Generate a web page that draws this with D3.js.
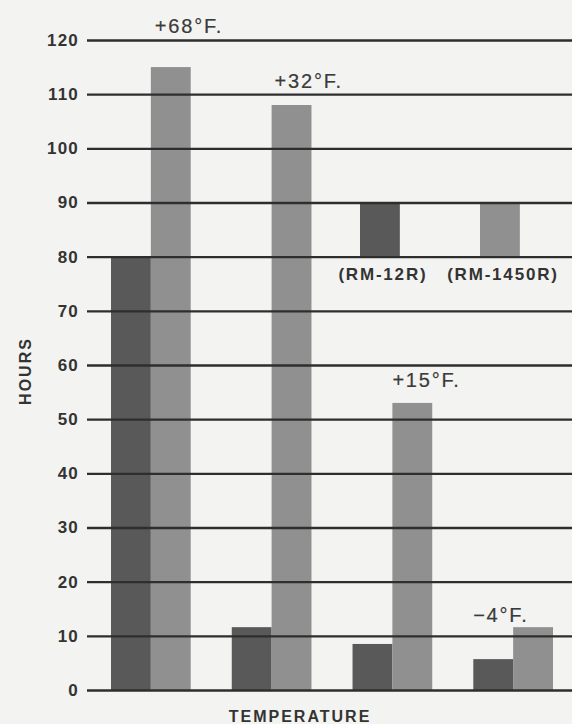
<!DOCTYPE html>
<html><head><meta charset="utf-8">
<script src="https://cdn.jsdelivr.net/npm/d3@7"></script>
<style>body{margin:0;background:#f3f3f1;overflow:hidden}</style>
</head><body>
<script>
// ---- data ----
const temperatures = ["+68°F.", "+32°F.", "+15°F.", "−4°F."];
const series = ["RM-12R", "RM-1450R"];
const rm12r = [80, 11.6, 8.5, 5.7];
const rm1450r = [115, 108, 53, 11.6];
const yTicks = [0, 10, 20, 30, 40, 50, 60, 70, 80, 90, 100, 110, 120];
const legendLabels = ["(RM-12R)", "(RM-1450R)"];
const yTitle = "HOURS";
const xTitle = "TEMPERATURE";

// ---- layout ----
const W = 572, H = 724;
const colors = ["#595959", "#909090"];
const font = "'Liberation Sans', Arial, sans-serif";

const svg = d3.select("body").append("svg").attr("width", W).attr("height", H)
  .style("font-family", font);
svg.append("rect").attr("width", W).attr("height", H).attr("fill", "#f3f3f1");

const y = d3.scaleLinear().domain([0, 120]).range([690, 40]);
const x = d3.scaleBand().domain(temperatures).range([111, 553]).paddingInner(0.34).paddingOuter(0);
const xs = d3.scaleBand().domain(series).range([0, x.bandwidth()]);

const values = [rm12r, rm1450r];
const rows = [];
temperatures.forEach((t, i) => series.forEach((s, j) => rows.push({t, s, v: values[j][i], j})));

// bars
svg.append("g").selectAll("rect").data(rows).join("rect")
  .attr("x", d => x(d.t) + xs(d.s))
  .attr("y", d => y(d.v))
  .attr("width", xs.bandwidth())
  .attr("height", d => y(0) - y(d.v))
  .attr("fill", d => colors[d.j]);

// legend squares (between the 90 and 80 gridlines)
const legX = [360, 480];
svg.append("g").selectAll("rect").data(series).join("rect")
  .attr("x", (d, i) => legX[i])
  .attr("y", y(90))
  .attr("width", xs.bandwidth())
  .attr("height", y(80) - y(90))
  .attr("fill", (d, i) => colors[i]);

// grid + axis
const axisX = 87;
const axis = d3.axisLeft(y).tickValues(yTicks).tickSize(-(W - axisX)).tickPadding(8);
const ag = svg.append("g").attr("transform", `translate(${axisX},0)`).call(axis);
ag.select(".domain").remove();
ag.selectAll(".tick line").attr("stroke", "#2e2e2e").attr("stroke-width", 2.4);
ag.selectAll(".tick text").attr("fill", "#333").style("font-size", "17px")
  .style("font-weight", "bold").style("letter-spacing", "1.2px").style("font-family", font);

// legend labels
svg.append("g").selectAll("text").data(legendLabels).join("text")
  .attr("x", (d, i) => legX[i] + xs.bandwidth() / 2 + 3)
  .attr("y", 280)
  .attr("text-anchor", "middle")
  .attr("fill", "#333")
  .style("font-size", "17px").style("font-weight", "bold").style("letter-spacing", "1.8px")
  .text(d => d);

// temperature annotations
const annDx = [4, 3, 0, -40];
const annDy = [34, 17, 16, 5];
svg.append("g").selectAll("text").data(temperatures).join("text")
  .attr("x", (d, i) => x(d) + xs("RM-1450R") + annDx[i])
  .attr("y", (d, i) => y(rm1450r[i]) - annDy[i])
  .attr("fill", "#3a3a3a").attr("stroke", "#3a3a3a").attr("stroke-width", 0.2)
  .style("font-size", "20px").style("letter-spacing", "1.8px")
  .text(d => d);

// axis titles
svg.append("text").attr("x", 300).attr("y", 722).attr("text-anchor", "middle")
  .attr("fill", "#333").style("font-size", "16px").style("font-weight", "bold")
  .style("letter-spacing", "2px").text(xTitle);
svg.append("text").attr("transform", "translate(31,371) rotate(-90)").attr("text-anchor", "middle")
  .attr("fill", "#333").style("font-size", "16px").style("font-weight", "bold")
  .style("letter-spacing", "2px").text(yTitle);
</script>
</body></html>
